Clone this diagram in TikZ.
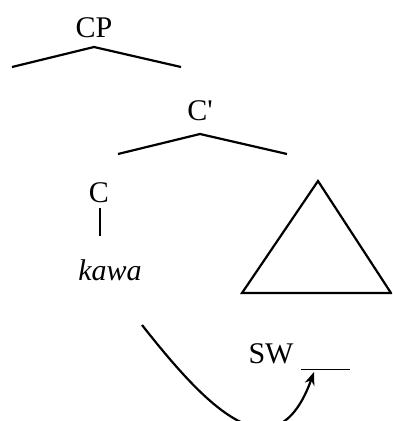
\documentclass[tikz,border=0pt]{standalone}
\usepackage{fontspec}
\setmainfont{Liberation Serif}
\usetikzlibrary{positioning,arrows.meta}

\begin{document}
\begin{tikzpicture}[
    x=1pt, y=-1pt,
    font=\fontsize{30}{34}\selectfont,
    label/.style={inner sep=0pt, anchor=base},
    branch/.style={line width=2.2pt},
    >=Stealth
  ]
    \clip (0,0) rectangle (392,421);

    % tree labels
    \node[label] (cp) at (94,37) {CP};
    \node[label] (cbar) at (200,120) {C\textquotesingle};
    \node[label] (c) at (99,202) {C};
    \node[label] (kawa) at (110,280) {\itshape kawa};
    \node[label] (sw) at (271,363) {SW};

    % branch ends
    \coordinate (cp-top) at (94,47);
    \coordinate (cp-l) at (12,67);
    \coordinate (cp-r) at (181,67);
    \coordinate (cbar-top) at (200,134);
    \coordinate (cbar-l) at (118,154);
    \coordinate (cbar-r) at (287,154);
    \coordinate (c-top) at (100,208);
    \coordinate (c-bot) at (100,236);

    \draw[branch] (cp-l) -- (cp-top) -- (cp-r);
    \draw[branch] (cbar-l) -- (cbar-top) -- (cbar-r);
    \draw[branch, line width=2.8pt] (c-top) -- (c-bot);

    % triangle
    \coordinate (tri-a) at (318,181);
    \coordinate (tri-l) at (242,293);
    \coordinate (tri-r) at (391,293);
    \draw[branch, line join=miter] (tri-a) -- (tri-l) -- (tri-r) -- cycle;

    % gap and movement
    \coordinate (gap-l) at (301,369);
    \coordinate (gap-r) at (350,369);
    \draw[line width=1pt] (gap-l) -- (gap-r);
    \coordinate (mv-start) at (142,325);
    \coordinate (mv-end) at (314,372);
    \draw[branch, -{Stealth[length=13pt, width=10pt]}]
      (mv-start) .. controls (205,405) and (275,480) .. (mv-end);
  \end{tikzpicture}
\end{document}
